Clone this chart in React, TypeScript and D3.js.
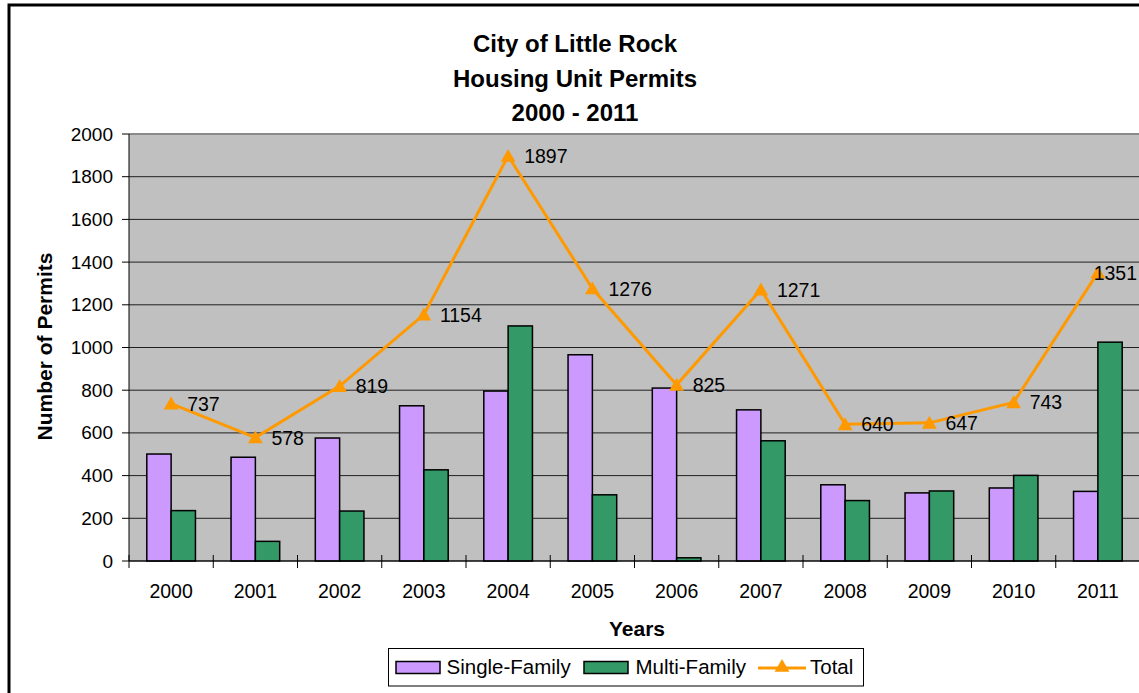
import React from 'react';
import * as d3 from 'd3';

const years = ['2000', '2001', '2002', '2003', '2004', '2005', '2006', '2007', '2008', '2009', '2010', '2011'];
const singleFamily = [501, 486, 576, 727, 796, 966, 810, 708, 357, 319, 342, 326];
const multiFamily = [236, 92, 234, 427, 1101, 310, 15, 563, 283, 328, 401, 1025];
const total = [737, 578, 819, 1154, 1897, 1276, 825, 1271, 640, 647, 743, 1351];
const yTicks = [0, 200, 400, 600, 800, 1000, 1200, 1400, 1600, 1800, 2000];
const titleLines = ['City of Little Rock', 'Housing Unit Permits', '2000 - 2011'];

const W = 1139;
const H = 693;
const FONT = "Arial, 'Liberation Sans', sans-serif";

export default function App() {
  const plotL = 129;
  const plotR = 1140;
  const plotT = 134;
  const plotB = 561;

  const x = d3.scaleBand<string>().domain(years).range([plotL, plotR]).paddingInner(0).paddingOuter(0);
  const bw = x.bandwidth();
  const groupPad = 0.2113 * bw;
  const inner = d3.scaleBand<string>().domain(['sf', 'mf']).range([groupPad, bw - groupPad]).padding(0);
  const y = d3.scaleLinear().domain([0, 2000]).range([plotB, plotT]);

  const cx = (i: number) => (x(years[i]) as number) + bw / 2;
  const line = d3.line<number>().x((_, i) => cx(i)).y((d) => y(d));
  const tri = d3.symbol().type(d3.symbolTriangle).size(95)() as string;

  const labelFs = 19.5;

  return (
    <div style={{ position: 'fixed', left: 0, top: 0 }}>
      <svg width={W} height={H} style={{ display: 'block', background: '#fff' }}>
        <rect x={9} y={5} width={W + 20} height={H + 20} fill="#fff" stroke="#000" strokeWidth={3} />
        {titleLines.map((t, i) => (
          <text key={t} x={575} y={52 + i * 34.5} textAnchor="middle" fontFamily={FONT} fontWeight="bold" fontSize={24} fill="#000">
            {t}
          </text>
        ))}
        <rect x={plotL} y={plotT} width={plotR - plotL} height={plotB - plotT} fill="#C0C0C0" />
        {yTicks.map((t) => (
          <line key={'g' + t} x1={plotL} x2={plotR} y1={y(t)} y2={y(t)} stroke={t === 2000 ? '#8a8a8a' : '#202020'} strokeWidth={t === 2000 ? 2 : 1} />
        ))}
        {years.map((yr, i) => (
          <g key={'b' + yr}>
            <rect x={(x(yr) as number) + (inner('sf') as number)} y={y(singleFamily[i])} width={inner.bandwidth()} height={plotB - y(singleFamily[i])} fill="#CC99FF" stroke="#000" strokeWidth={1.5} />
            <rect x={(x(yr) as number) + (inner('mf') as number)} y={y(multiFamily[i])} width={inner.bandwidth()} height={plotB - y(multiFamily[i])} fill="#339966" stroke="#000" strokeWidth={1.5} />
          </g>
        ))}
        <line x1={plotL} x2={plotL} y1={plotT} y2={plotB} stroke="#000" strokeWidth={1} />
        <line x1={plotL} x2={plotR} y1={plotB} y2={plotB} stroke="#000" strokeWidth={1} />
        {yTicks.map((t) => (
          <g key={'t' + t}>
            <line x1={122} x2={plotL} y1={y(t)} y2={y(t)} stroke="#000" strokeWidth={1} />
            <text x={113} y={y(t)} textAnchor="end" dominantBaseline="central" fontFamily={FONT} fontSize={19} fill="#000">
              {t}
            </text>
          </g>
        ))}
        {years.map((yr, i) => (
          <g key={'x' + yr}>
            <line x1={(x(yr) as number)} x2={(x(yr) as number)} y1={555} y2={568} stroke="#000" strokeWidth={1} />
            <text x={cx(i)} y={598} textAnchor="middle" fontFamily={FONT} fontSize={19.5} fill="#000">
              {yr}
            </text>
          </g>
        ))}
        <path d={line(total) as string} fill="none" stroke="#FF9900" strokeWidth={3} />
        {total.map((v, i) => (
          <path key={'m' + i} d={tri} transform={`translate(${cx(i)},${y(v) + 1.5})`} fill="#FF9900" />
        ))}
        {total.map((v, i) => {
          const w = String(v).length * 0.556 * labelFs;
          const lx = Math.min(cx(i) + 16, 1137 - w);
          return (
            <text key={'l' + i} x={lx} y={y(v)} dominantBaseline="central" fontFamily={FONT} fontSize={labelFs} fill="#000">
              {v}
            </text>
          );
        })}
        <text x={637} y={636} textAnchor="middle" fontFamily={FONT} fontWeight="bold" fontSize={21} fill="#000">
          Years
        </text>
        <text transform={`translate(44.5,346.5) rotate(-90)`} textAnchor="middle" dominantBaseline="central" fontFamily={FONT} fontWeight="bold" fontSize={21} fill="#000">
          Number of Permits
        </text>
        <rect x={388.5} y={648.5} width={475} height={37.5} fill="#fff" stroke="#000" strokeWidth={1} />
        <rect x={396} y={661.5} width={44} height={12} fill="#CC99FF" stroke="#000" strokeWidth={1.5} />
        <text x={446.5} y={673.5} fontFamily={FONT} fontSize={20.5} fill="#000">Single-Family</text>
        <rect x={584} y={661.5} width={44} height={12} fill="#339966" stroke="#000" strokeWidth={1.5} />
        <text x={635.5} y={673.5} fontFamily={FONT} fontSize={20.5} fill="#000">Multi-Family</text>
        <line x1={758} x2={806} y1={668} y2={668} stroke="#FF9900" strokeWidth={3} />
        <path d={tri} transform="translate(782,667.5)" fill="#FF9900" />
        <text x={810} y={673.5} fontFamily={FONT} fontSize={20.5} fill="#000">Total</text>
      </svg>
    </div>
  );
}
